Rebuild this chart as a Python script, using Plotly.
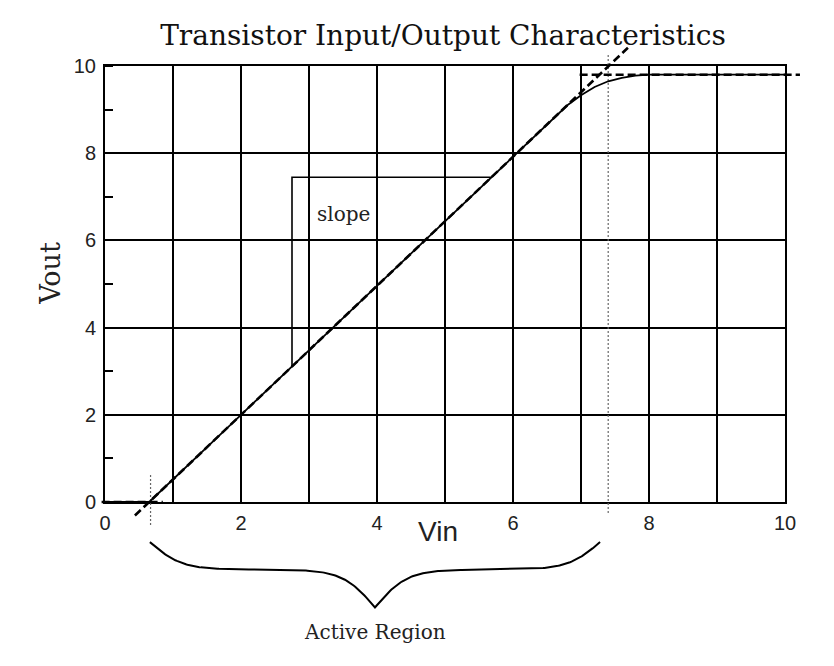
import numpy as np
import plotly.graph_objects as go

# ---------------- data ----------------
# transfer curve (Vin -> Vout)
vin_curve = [0.0, 0.65, 2.0, 6.05, 6.8, 7.0, 7.2, 7.4, 7.6, 7.8, 8.0, 10.0]
vout_curve = [0.0, 0.0, 2.0, 8.0, 9.1, 9.33, 9.52, 9.65, 9.73, 9.78, 9.8, 9.8]

# dashed asymptotes
linear_x = [0.44, 7.69]
linear_y = [-0.31, 10.42]
sat_x = [6.98, 10.22]
sat_y = [9.8, 9.8]
cut_x = [-0.05, 0.85]
cut_y = [0.0, 0.0]

# dotted region boundaries
bound1_x = [0.67, 0.67]
bound1_y = [-0.53, 0.66]
bound2_x = [7.4, 7.4]
bound2_y = [-0.25, 10.25]

# slope triangle
slope_x = [2.75, 2.75, 5.68]
slope_y = [3.11, 7.45, 7.45]

# brace for active region
brace_x0, brace_x1 = 0.66, 7.28
brace_top, brace_flat, brace_tip = -0.92, -1.55, -2.42

x_ticks = list(range(0, 11))
x_ticktext = [str(v) if v % 2 == 0 else "" for v in x_ticks]
y_ticks = [0, 2, 4, 6, 8, 10]

# ---------------- layout geometry ----------------
W, H = 834, 666
PL, PR, PT, PB = 105, 785, 66, 502
XMIN, XMAX, YMIN, YMAX = 0, 10, 0, 10
px_x = (PR - PL) / (XMAX - XMIN)
px_y = (PB - PT) / (YMAX - YMIN)
x2_range = [XMIN - PL / px_x, XMIN + (W - PL) / px_x]
y2_range = [YMIN - (H - PB) / px_y, YMIN + PB / px_y]

SERIF = "DejaVu Serif"
SANS = "Liberation Sans, Arial"

# brace shape
n = 301
t = np.linspace(0, 1, n)
half = t[: n // 2 + 1]
beta = 28.0
yh = 1 / (1 + np.exp(-beta * (half - half[0]))) + 1 / (1 + np.exp(-beta * (half - half[-1])))
yb = np.concatenate([yh, yh[-2::-1]])
brace_y = np.where(
    yb <= 1.0,
    brace_top + (yb - 0.5) / 0.5 * (brace_flat - brace_top),
    brace_flat + (yb - 1.0) / 0.5 * (brace_tip - brace_flat),
)
brace_xs = brace_x0 + t * (brace_x1 - brace_x0)

fig = go.Figure()

# slope triangle on main axes
fig.add_trace(go.Scatter(x=slope_x, y=slope_y, mode="lines",
                         line=dict(color="black", width=1.6), xaxis="x", yaxis="y",
                         showlegend=False, hoverinfo="skip"))

def ov(x, y, **line):
    fig.add_trace(go.Scatter(x=x, y=y, mode="lines", line=line,
                             xaxis="x2", yaxis="y2", showlegend=False, hoverinfo="skip"))

ov(bound1_x, bound1_y, color="#666666", width=1.2, dash="2px,2px")
ov(bound2_x, bound2_y, color="#666666", width=1.2, dash="2px,2px")
ov(vin_curve, vout_curve, color="black", width=1.8)
ov(linear_x, linear_y, color="black", width=2.6, dash="8px,4px")
ov(sat_x, sat_y, color="black", width=2.6, dash="8px,4px")
ov(cut_x, cut_y, color="black", width=2.6, dash="8px,4px")
ov(list(brace_xs), list(brace_y), color="black", width=2)

fig.update_layout(
    template="none",
    width=W, height=H,
    margin=dict(l=0, r=0, t=0, b=0, pad=0, autoexpand=False),
    paper_bgcolor="white", plot_bgcolor="rgba(0,0,0,0)",
    showlegend=False,
    title=dict(text="Transistor Input/Output Characteristics",
               x=443 / W, xanchor="center", y=1 - 35 / H, yanchor="middle",
               font=dict(family=SERIF, size=28, color="#111111")),
    xaxis=dict(domain=[PL / W, PR / W], range=[XMIN, XMAX], anchor="y", automargin=False,
               tickvals=x_ticks, ticktext=x_ticktext, ticks="",
               showgrid=True, gridcolor="black", gridwidth=2, zeroline=False,
               showline=True, linecolor="black", linewidth=2, mirror=True,
               tickfont=dict(family=SANS, size=20, color="#222222"),
               ticklabelstandoff=2, fixedrange=True),
    yaxis=dict(domain=[1 - PB / H, 1 - PT / H], range=[YMIN, YMAX], anchor="x", automargin=False,
               tickvals=y_ticks, ticks="",
               showgrid=True, gridcolor="black", gridwidth=2, zeroline=False,
               showline=True, linecolor="black", linewidth=2, mirror=True,
               minor=dict(dtick=1, ticks="inside", ticklen=8, tickwidth=2,
                          tickcolor="black", showgrid=False),
               tickfont=dict(family=SANS, size=20, color="#222222"),
               ticklabelstandoff=3, fixedrange=True),
    xaxis2=dict(domain=[0, 1], range=x2_range, anchor="y2", visible=False,
                automargin=False, fixedrange=True),
    yaxis2=dict(domain=[0, 1], range=y2_range, anchor="x2", visible=False,
                automargin=False, fixedrange=True),
    annotations=[
        dict(text="Vin", x=4.9, y=-0.68, xref="x2", yref="y2", showarrow=False,
             font=dict(family=SANS, size=28, color="#222222"), xanchor="center", yanchor="middle"),
        dict(text="Vout", x=-0.8, y=5.25, xref="x2", yref="y2", showarrow=False, textangle=-90,
             font=dict(family=SERIF, size=27, color="#222222"), xanchor="center", yanchor="middle"),
        dict(text="slope", x=3.5, y=6.6, xref="x2", yref="y2", showarrow=False,
             font=dict(family=SERIF, size=20, color="#222222"), xanchor="center", yanchor="middle"),
        dict(text="Active Region", x=3.97, y=-2.98, xref="x2", yref="y2", showarrow=False,
             font=dict(family=SERIF, size=20, color="#222222"), xanchor="center", yanchor="middle"),
    ],
)

fig.write_html("out.html")
